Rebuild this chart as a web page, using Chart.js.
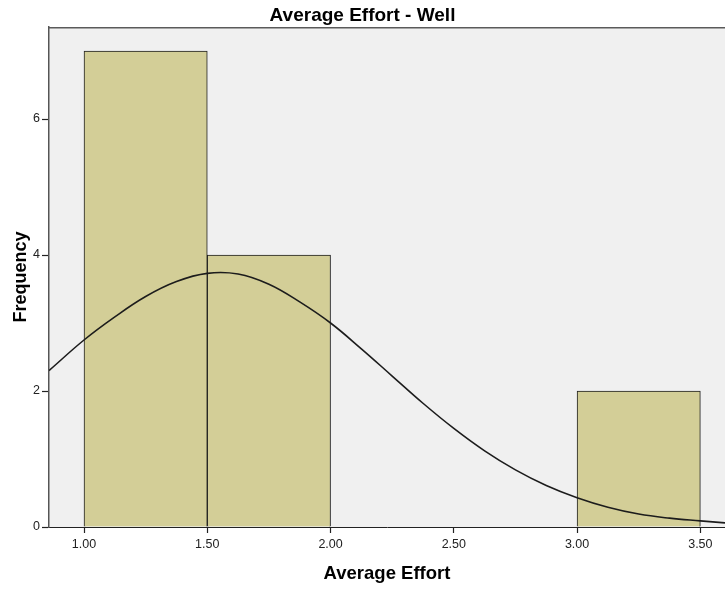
<!DOCTYPE html>
<html>
<head>
<meta charset="utf-8">
<title>Average Effort - Well</title>
<script src="https://cdn.jsdelivr.net/npm/chart.js@4/dist/chart.umd.min.js"></script>
<style>
  html, body { margin: 0; padding: 0; background: #ffffff; overflow: hidden; }
  #wrap { width: 725px; height: 590px; }
  canvas { display: block; }
</style>
</head>
<body>
<div id="wrap"><canvas id="hist" width="725" height="590"></canvas></div>
<script>
// Histogram bins (edges of each 0.5-wide bin) and their counts
const binEdges = [1.0, 1.5, 2.0, 2.5, 3.0, 3.5];
const frequency = [7, 4, 0, 0, 2];

// Fitted normal curve, sampled along the axis
const curveX = [0.858, 1.0, 1.125, 1.25, 1.375, 1.5, 1.625, 1.75, 1.875, 2.0, 2.125, 2.25,
                2.375, 2.5, 2.625, 2.75, 2.875, 3.0, 3.125, 3.25, 3.375, 3.5, 3.6];
const curveY = [2.30, 2.75, 3.09, 3.39, 3.61, 3.73, 3.72, 3.57, 3.31, 3.00, 2.62, 2.22,
                1.82, 1.45, 1.12, 0.84, 0.61, 0.43, 0.29, 0.19, 0.13, 0.09, 0.06];

// Axis ticks
const xTicks = [1.0, 1.5, 2.0, 2.5, 3.0, 3.5];
const yTicks = [0, 2, 4, 6];

const FONT = "'Liberation Sans', Arial, Helvetica, sans-serif";

const barData = frequency.map((f, i) => ({ x: (binEdges[i] + binEdges[i + 1]) / 2, y: f }));
const curveData = curveX.map((x, i) => ({ x: x, y: curveY[i] }));

// Grey plot panel with a frame line along the top
const panel = {
  id: 'panel',
  beforeDraw(chart) {
    const { ctx, chartArea: a } = chart;
    ctx.save();
    ctx.fillStyle = '#F0F0F0';
    ctx.fillRect(a.left, a.top, a.right - a.left, a.bottom - a.top);
    ctx.restore();
  },
  afterDraw(chart) {
    const { ctx, chartArea: a } = chart;
    ctx.save();
    ctx.strokeStyle = '#5a5a5a';
    ctx.lineWidth = 1.5;
    ctx.beginPath();
    ctx.moveTo(a.left, a.top + 0.75);
    ctx.lineTo(a.right + 2, a.top + 0.75);
    ctx.stroke();
    ctx.restore();
  }
};

new Chart(document.getElementById('hist'), {
  type: 'bar',
  data: {
    datasets: [
      {
        type: 'line',
        data: curveData,
        borderColor: '#1c1c1c',
        borderWidth: 1.6,
        pointRadius: 0,
        tension: 0.4,
        fill: false,
        order: 0
      },
      {
        type: 'bar',
        data: barData,
        backgroundColor: '#D3CE97',
        borderColor: '#1e1e1e',
        borderWidth: 1,
        borderSkipped: 'start',
        barPercentage: 1,
        categoryPercentage: 1,
        order: 1
      }
    ]
  },
  options: {
    responsive: false,
    animation: false,
    devicePixelRatio: 1,
    layout: { padding: 0 },
    plugins: {
      legend: { display: false },
      tooltip: { enabled: false },
      title: {
        display: true,
        text: 'Average Effort - Well',
        color: '#000',
        font: { family: FONT, size: 19, weight: 'bold', lineHeight: 1 },
        padding: { top: 6.6, bottom: 1.4 }
      }
    },
    scales: {
      x: {
        type: 'linear',
        min: 0.858,
        max: 3.6,
        offset: false,
        afterFit(scale) { scale.height = 63; },
        afterBuildTicks(scale) { scale.ticks = xTicks.map(v => ({ value: v })); },
        ticks: {
          color: '#222',
          padding: 4.5,
          maxRotation: 0,
          autoSkip: false,
          font: { family: FONT, size: 12.5 },
          callback: v => Number(v).toFixed(2)
        },
        grid: { offset: false, drawOnChartArea: false, drawTicks: true, tickLength: 6, tickColor: '#222', tickWidth: 1.2 },
        border: { display: true, color: '#222', width: 1 },
        title: {
          display: true,
          text: 'Average Effort',
          color: '#000',
          font: { family: FONT, size: 18.5, weight: 'bold' },
          padding: { top: 0, bottom: 5 }
        }
      },
      y: {
        type: 'linear',
        min: 0,
        max: 7.353,
        afterFit(scale) { scale.width = 49; },
        afterBuildTicks(scale) { scale.ticks = yTicks.map(v => ({ value: v })); },
        ticks: {
          color: '#222',
          padding: 2,
          autoSkip: false,
          font: { family: FONT, size: 12.5 }
        },
        grid: { offset: false, drawOnChartArea: false, drawTicks: true, tickLength: 7, tickColor: '#222', tickWidth: 1.2 },
        border: { display: true, color: '#555', width: 1.5 },
        title: {
          display: true,
          text: 'Frequency',
          color: '#000',
          font: { family: FONT, size: 18, weight: 'bold' },
          padding: { top: 10, bottom: 0 }
        }
      }
    }
  },
  plugins: [panel]
});
</script>
</body>
</html>
